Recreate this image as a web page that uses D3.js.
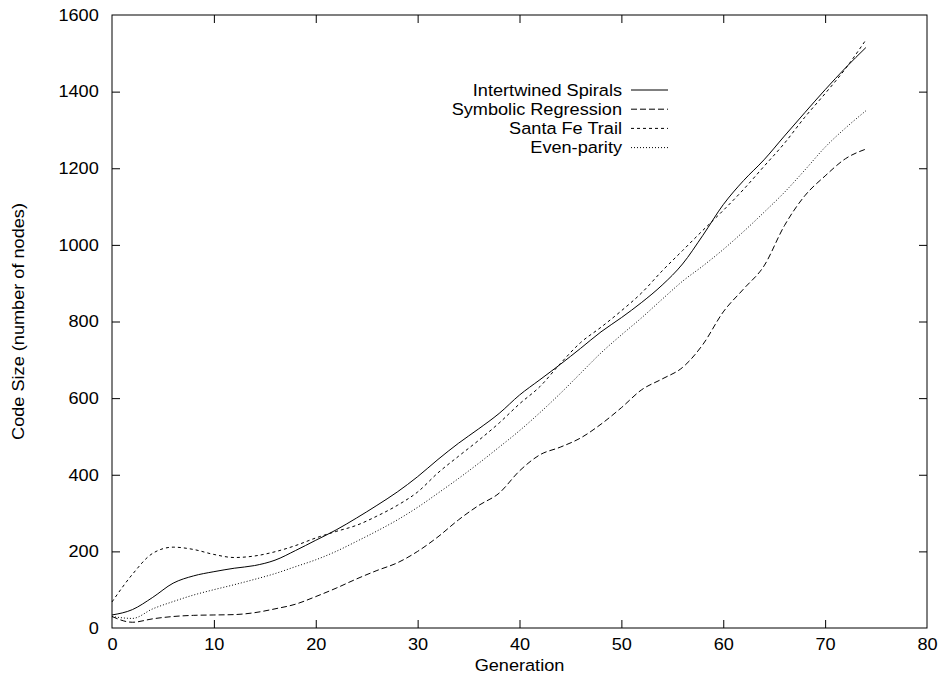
<!DOCTYPE html>
<html>
<head>
<meta charset="utf-8">
<script src="https://cdn.jsdelivr.net/npm/d3@7"></script>
<style>
  html, body { margin: 0; padding: 0; background: #fff; }
  text { font-family: "Liberation Sans", Arial, Helvetica, sans-serif; fill: #000; }
</style>
</head>
<body>
<svg id="chart" width="942" height="674"></svg>
<script>
// ---- data ----
const generations = [0,2,4,6,8,10,12,14,16,18,20,22,24,26,28,30,32,34,36,38,40,42,44,46,48,50,52,54,56,58,60,62,64,66,68,70,72,74];
const intertwinedSpirals = [34,48,80,117,136,147,156,163,177,202,229,256,287,320,355,395,440,482,520,560,608,648,688,730,773,810,850,895,950,1025,1105,1168,1222,1284,1345,1405,1462,1515];
const symbolicRegression = [30,15,24,30,33,34,35,40,50,62,82,104,128,150,170,200,238,282,320,352,410,452,472,496,532,575,622,650,680,740,825,885,945,1050,1128,1180,1225,1250];
const santaFeTrail = [68,140,195,211,205,192,184,188,199,215,235,252,268,292,320,355,405,448,490,535,585,630,690,745,785,828,875,932,985,1038,1090,1145,1205,1265,1333,1395,1460,1535];
const evenParity = [30,25,50,69,86,100,113,127,142,160,178,200,226,253,282,315,352,390,430,472,515,562,612,665,718,765,810,858,905,945,988,1035,1085,1137,1195,1255,1305,1350];
const xTicks = [0,10,20,30,40,50,60,70,80];
const yTicks = [0,200,400,600,800,1000,1200,1400,1600];
const seriesNames = ["Intertwined Spirals","Symbolic Regression","Santa Fe Trail","Even-parity"];

const series = [
  {name: seriesNames[0], values: intertwinedSpirals, dash: null},
  {name: seriesNames[1], values: symbolicRegression, dash: "6,3"},
  {name: seriesNames[2], values: santaFeTrail, dash: "3,3"},
  {name: seriesNames[3], values: evenParity, dash: "1,2"}
];

// ---- layout ----
const svg = d3.select("#chart");
const pL = 112, pR = 927, pT = 15, pB = 628;
const x = d3.scaleLinear().domain([0,80]).range([pL,pR]);
const y = d3.scaleLinear().domain([0,1600]).range([pB,pT]);
const FS = 16.5, SX = 1.1;

function stretch(sel) {
  sel.each(function() {
    const t = d3.select(this);
    const tr = t.attr("transform") || "";
    t.attr("transform", tr + " scale(" + SX + ",1)");
  });
}

// axes (ticks inward)
const gx = svg.append("g").attr("transform", `translate(0,${pB})`)
  .call(d3.axisBottom(x).tickValues(xTicks).tickFormat(d3.format("d")).tickSizeInner(-8).tickSizeOuter(0).tickPadding(10));
const gxTop = svg.append("g").attr("transform", `translate(0,${pT})`)
  .call(d3.axisTop(x).tickValues(xTicks).tickFormat("").tickSizeInner(-8).tickSizeOuter(0));
const gy = svg.append("g").attr("transform", `translate(${pL},0)`)
  .call(d3.axisLeft(y).tickValues(yTicks).tickFormat(d3.format("d")).tickSizeInner(-8).tickSizeOuter(0).tickPadding(12));
const gyRight = svg.append("g").attr("transform", `translate(${pR},0)`)
  .call(d3.axisRight(y).tickValues(yTicks).tickFormat("").tickSizeInner(-8).tickSizeOuter(0));

[gx, gxTop, gy, gyRight].forEach(g => {
  g.select(".domain").remove();
  g.selectAll(".tick line").attr("stroke", "#000").attr("stroke-width", 1);
  g.selectAll("text").attr("font-size", FS).attr("font-family", "Liberation Sans, Arial, sans-serif").attr("fill", "#000");
});
gx.selectAll(".tick").filter(d => d === 0 || d === 80).select("line").remove();
gxTop.selectAll(".tick").filter(d => d === 0 || d === 80).select("line").remove();
gy.selectAll(".tick").filter(d => d === 0 || d === 1600).select("line").remove();
gyRight.selectAll(".tick").filter(d => d === 0 || d === 1600).select("line").remove();
gx.selectAll("text").attr("dy", "0.71em");
stretch(gx.selectAll("text"));
stretch(gy.selectAll("text"));

// frame
svg.append("rect").attr("x", pL).attr("y", pT).attr("width", pR-pL).attr("height", pB-pT)
  .attr("fill", "none").attr("stroke", "#000").attr("stroke-width", 1);

// lines
const line = d3.line().x((d,i) => x(generations[i])).y(d => y(d)).curve(d3.curveMonotoneX);
series.forEach(s => {
  svg.append("path").datum(s.values).attr("d", line)
    .attr("fill", "none").attr("stroke", "#000").attr("stroke-width", 1)
    .attr("stroke-dasharray", s.dash);
});

// axis titles
svg.append("text").attr("text-anchor", "middle")
  .attr("transform", `translate(${(pL+pR)/2},671) scale(${SX},1)`)
  .attr("font-size", FS).text("Generation");
svg.append("text").attr("text-anchor", "middle")
  .attr("transform", `translate(24,${(pT+pB)/2}) rotate(-90) scale(${SX},1)`)
  .attr("font-size", FS).text("Code Size (number of nodes)");

// legend
const legY0 = 90, legDy = 19.2;
series.forEach((s, i) => {
  const yy = legY0 + i*legDy;
  svg.append("text").attr("text-anchor", "end").attr("dy", "0.35em")
    .attr("transform", `translate(622,${yy}) scale(${SX},1)`)
    .attr("font-size", FS).text(s.name);
  svg.append("line").attr("x1", 631).attr("x2", 668).attr("y1", yy).attr("y2", yy)
    .attr("stroke", "#000").attr("stroke-width", 1).attr("stroke-dasharray", s.dash);
});
</script>
</body>
</html>
